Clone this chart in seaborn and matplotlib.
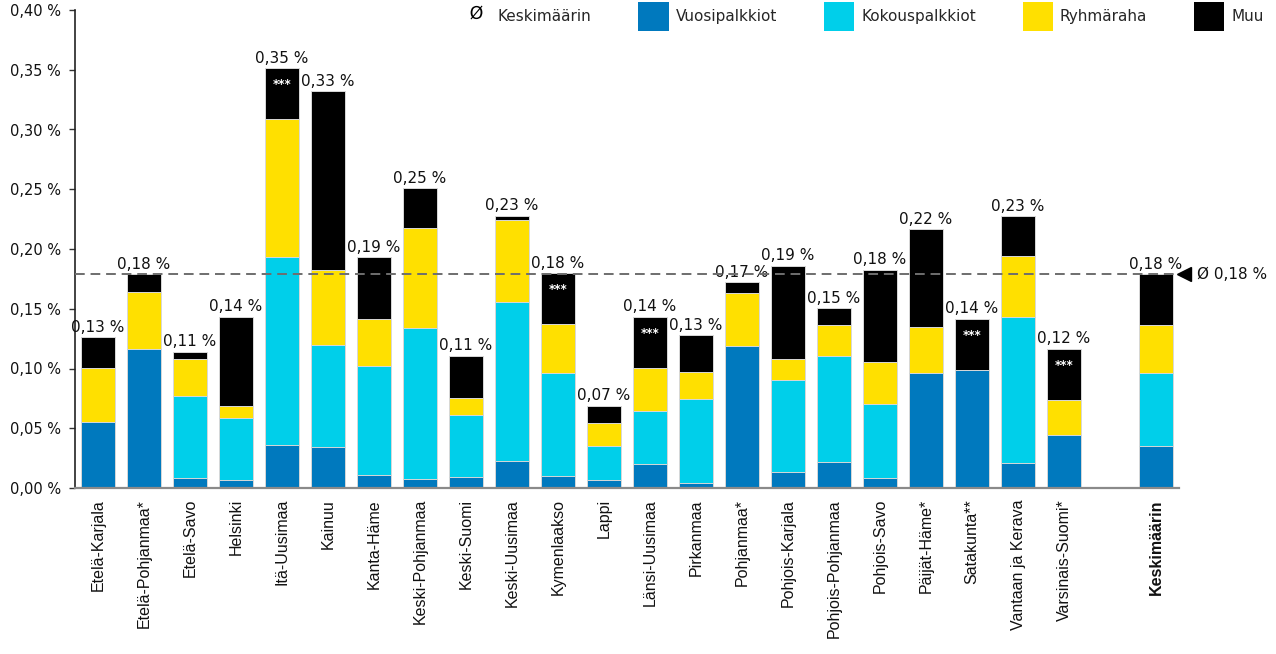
import numpy as np
import pandas as pd
import seaborn as sns
import matplotlib.pyplot as plt
import matplotlib.transforms as mtransforms
from matplotlib.patches import Patch
from matplotlib.lines import Line2D

# Data (share of payroll, %)
regions = [
    "Etelä-Karjala", "Etelä-Pohjanmaa*", "Etelä-Savo", "Helsinki", "Itä-Uusimaa",
    "Kainuu", "Kanta-Häme", "Keski-Pohjanmaa", "Keski-Suomi", "Keski-Uusimaa",
    "Kymenlaakso", "Lappi", "Länsi-Uusimaa", "Pirkanmaa", "Pohjanmaa*",
    "Pohjois-Karjala", "Pohjois-Pohjanmaa", "Pohjois-Savo", "Päijät-Häme*",
    "Satakunta**", "Vantaan ja Kerava", "Varsinais-Suomi*", "Keskimäärin",
]
vuosipalkkiot = [0.0555, 0.1163, 0.0086, 0.0070, 0.0360, 0.0346, 0.0112, 0.0078,
                 0.0092, 0.0229, 0.0103, 0.0064, 0.0204, 0.0045, 0.1191, 0.0137,
                 0.0220, 0.0086, 0.0965, 0.0987, 0.0212, 0.0446, 0.0354]
kokouspalkkiot = [0.0, 0.0, 0.0681, 0.0519, 0.1570, 0.0851, 0.0909, 0.1262,
                  0.0519, 0.1325, 0.0862, 0.0285, 0.0437, 0.0697, 0.0, 0.0767,
                  0.0885, 0.0617, 0.0, 0.0, 0.1216, 0.0, 0.0608]
ryhmaraha = [0.0450, 0.0474, 0.0310, 0.0095, 0.1155, 0.0624, 0.0390, 0.0833,
             0.0142, 0.0691, 0.0407, 0.0198, 0.0360, 0.0226, 0.0441, 0.0176,
             0.0262, 0.0354, 0.0380, 0.0, 0.0513, 0.0290, 0.0399]
muu = [0.0256, 0.0153, 0.0064, 0.0750, 0.0430, 0.1501, 0.0519, 0.0335,
       0.0354, 0.0034, 0.0427, 0.0142, 0.0433, 0.0312, 0.0089, 0.0780,
       0.0139, 0.0770, 0.0822, 0.0430, 0.0335, 0.0430, 0.0429]
stars = [False, False, False, False, True, False, False, False, False, False,
         True, False, True, False, False, False, False, False, False, True,
         False, True, False]

spacer = " "
order = regions[:-1] + [spacer] + regions[-1:]

colors = {
    "Vuosipalkkiot": "#0079be",
    "Kokouspalkkiot": "#00cfea",
    "Ryhmäraha": "#ffe000",
    "Muu": "#000000",
}

df = pd.DataFrame({
    "Alue": regions,
    "Vuosipalkkiot": vuosipalkkiot,
    "Kokouspalkkiot": kokouspalkkiot,
    "Ryhmäraha": ryhmaraha,
    "Muu": muu,
})
parts = ["Vuosipalkkiot", "Kokouspalkkiot", "Ryhmäraha", "Muu"]
cum = df[parts].cumsum(axis=1)
df["total"] = cum["Muu"]
avg = df.loc[df["Alue"] == "Keskimäärin", "total"].iloc[0]

sns.set_theme(style="white")
plt.rcParams["font.family"] = ["DejaVu Sans"]

fig = plt.figure(figsize=(12.76, 6.54), dpi=100)
ax = fig.add_axes([75 / 1276, 1 - 488 / 654, (1179 - 75) / 1276, (488 - 10) / 654])

# stacked bars: draw cumulative layers from top to bottom
for part in reversed(parts):
    sns.barplot(x=df["Alue"], y=cum[part], order=order, color=colors[part],
                width=0.76, errorbar=None, saturation=1, ax=ax,
                edgecolor="#d8d8d8", linewidth=0.7)

# value labels and stars
pos = {name: i for i, name in enumerate(order)}
for name, tot, st in zip(df["Alue"], df["total"], stars):
    x = pos[name]
    ax.text(x, tot + 0.002, f"{tot:.2f} %".replace(".", ","), ha="center",
            va="bottom", fontsize=11, color="#111111")
    if st:
        ax.text(x, tot - 0.014, "***", ha="center", va="center",
                fontsize=8.5, color="white", fontweight="bold")

# average line
ax.axhline(avg, color="#6e6e6e", linestyle=(0, (5, 3)), linewidth=1.4, zorder=5)
trans = mtransforms.blended_transform_factory(ax.transAxes, ax.transData)
ax.plot([1.0045], [avg], marker="<", markersize=10, color="black",
        transform=trans, clip_on=False)
ax.text(1.016, avg, f"Ø {avg:.2f} %".replace(".", ","), transform=trans,
        ha="left", va="center", fontsize=11, color="#111111")

# axes
ax.set_xlim(-0.5, len(order) - 0.5)
ax.set_ylim(0, 0.40)
ax.set_yticks(np.arange(0, 0.401, 0.05))
ax.set_yticklabels([f"{v:.2f} %".replace(".", ",") for v in np.arange(0, 0.401, 0.05)],
                   fontsize=10.5, color="#111111")
ax.set_xticks(range(len(order)))
ax.set_xticklabels([("" if n == spacer else n) for n in order], rotation=90,
                   fontsize=11.5, family="Liberation Sans", color="#111111")
ax.get_xticklabels()[-1].set_fontweight("bold")
ax.set_xlabel("")
ax.set_ylabel("")
ax.tick_params(axis="y", length=4, width=1, color="#333333", pad=6, left=True)
ax.tick_params(axis="x", length=0, pad=8)
for s in ["top", "right"]:
    ax.spines[s].set_visible(False)
ax.spines["left"].set_color("#222222")
ax.spines["left"].set_linewidth(1.2)
ax.spines["bottom"].set_color("#8a8a8a")
ax.spines["bottom"].set_linewidth(1.6)

# legend
handles = [Line2D([], [], marker=r"$\mathrm{Ø}$", linestyle="none", color="black",
                  markersize=10, markeredgewidth=0)]
handles += [Patch(facecolor=colors[p], edgecolor="none") for p in parts]
labels = ["Keskimäärin"] + parts
fig.legend(handles, labels, loc="upper right", bbox_to_anchor=(1266 / 1276, 1.0),
           ncol=5, frameon=False, fontsize=11, handlelength=2.0, handleheight=2.5,
           handletextpad=0.45, columnspacing=3.05, borderpad=0.15, borderaxespad=0)

fig.savefig("out.png", dpi=100)
